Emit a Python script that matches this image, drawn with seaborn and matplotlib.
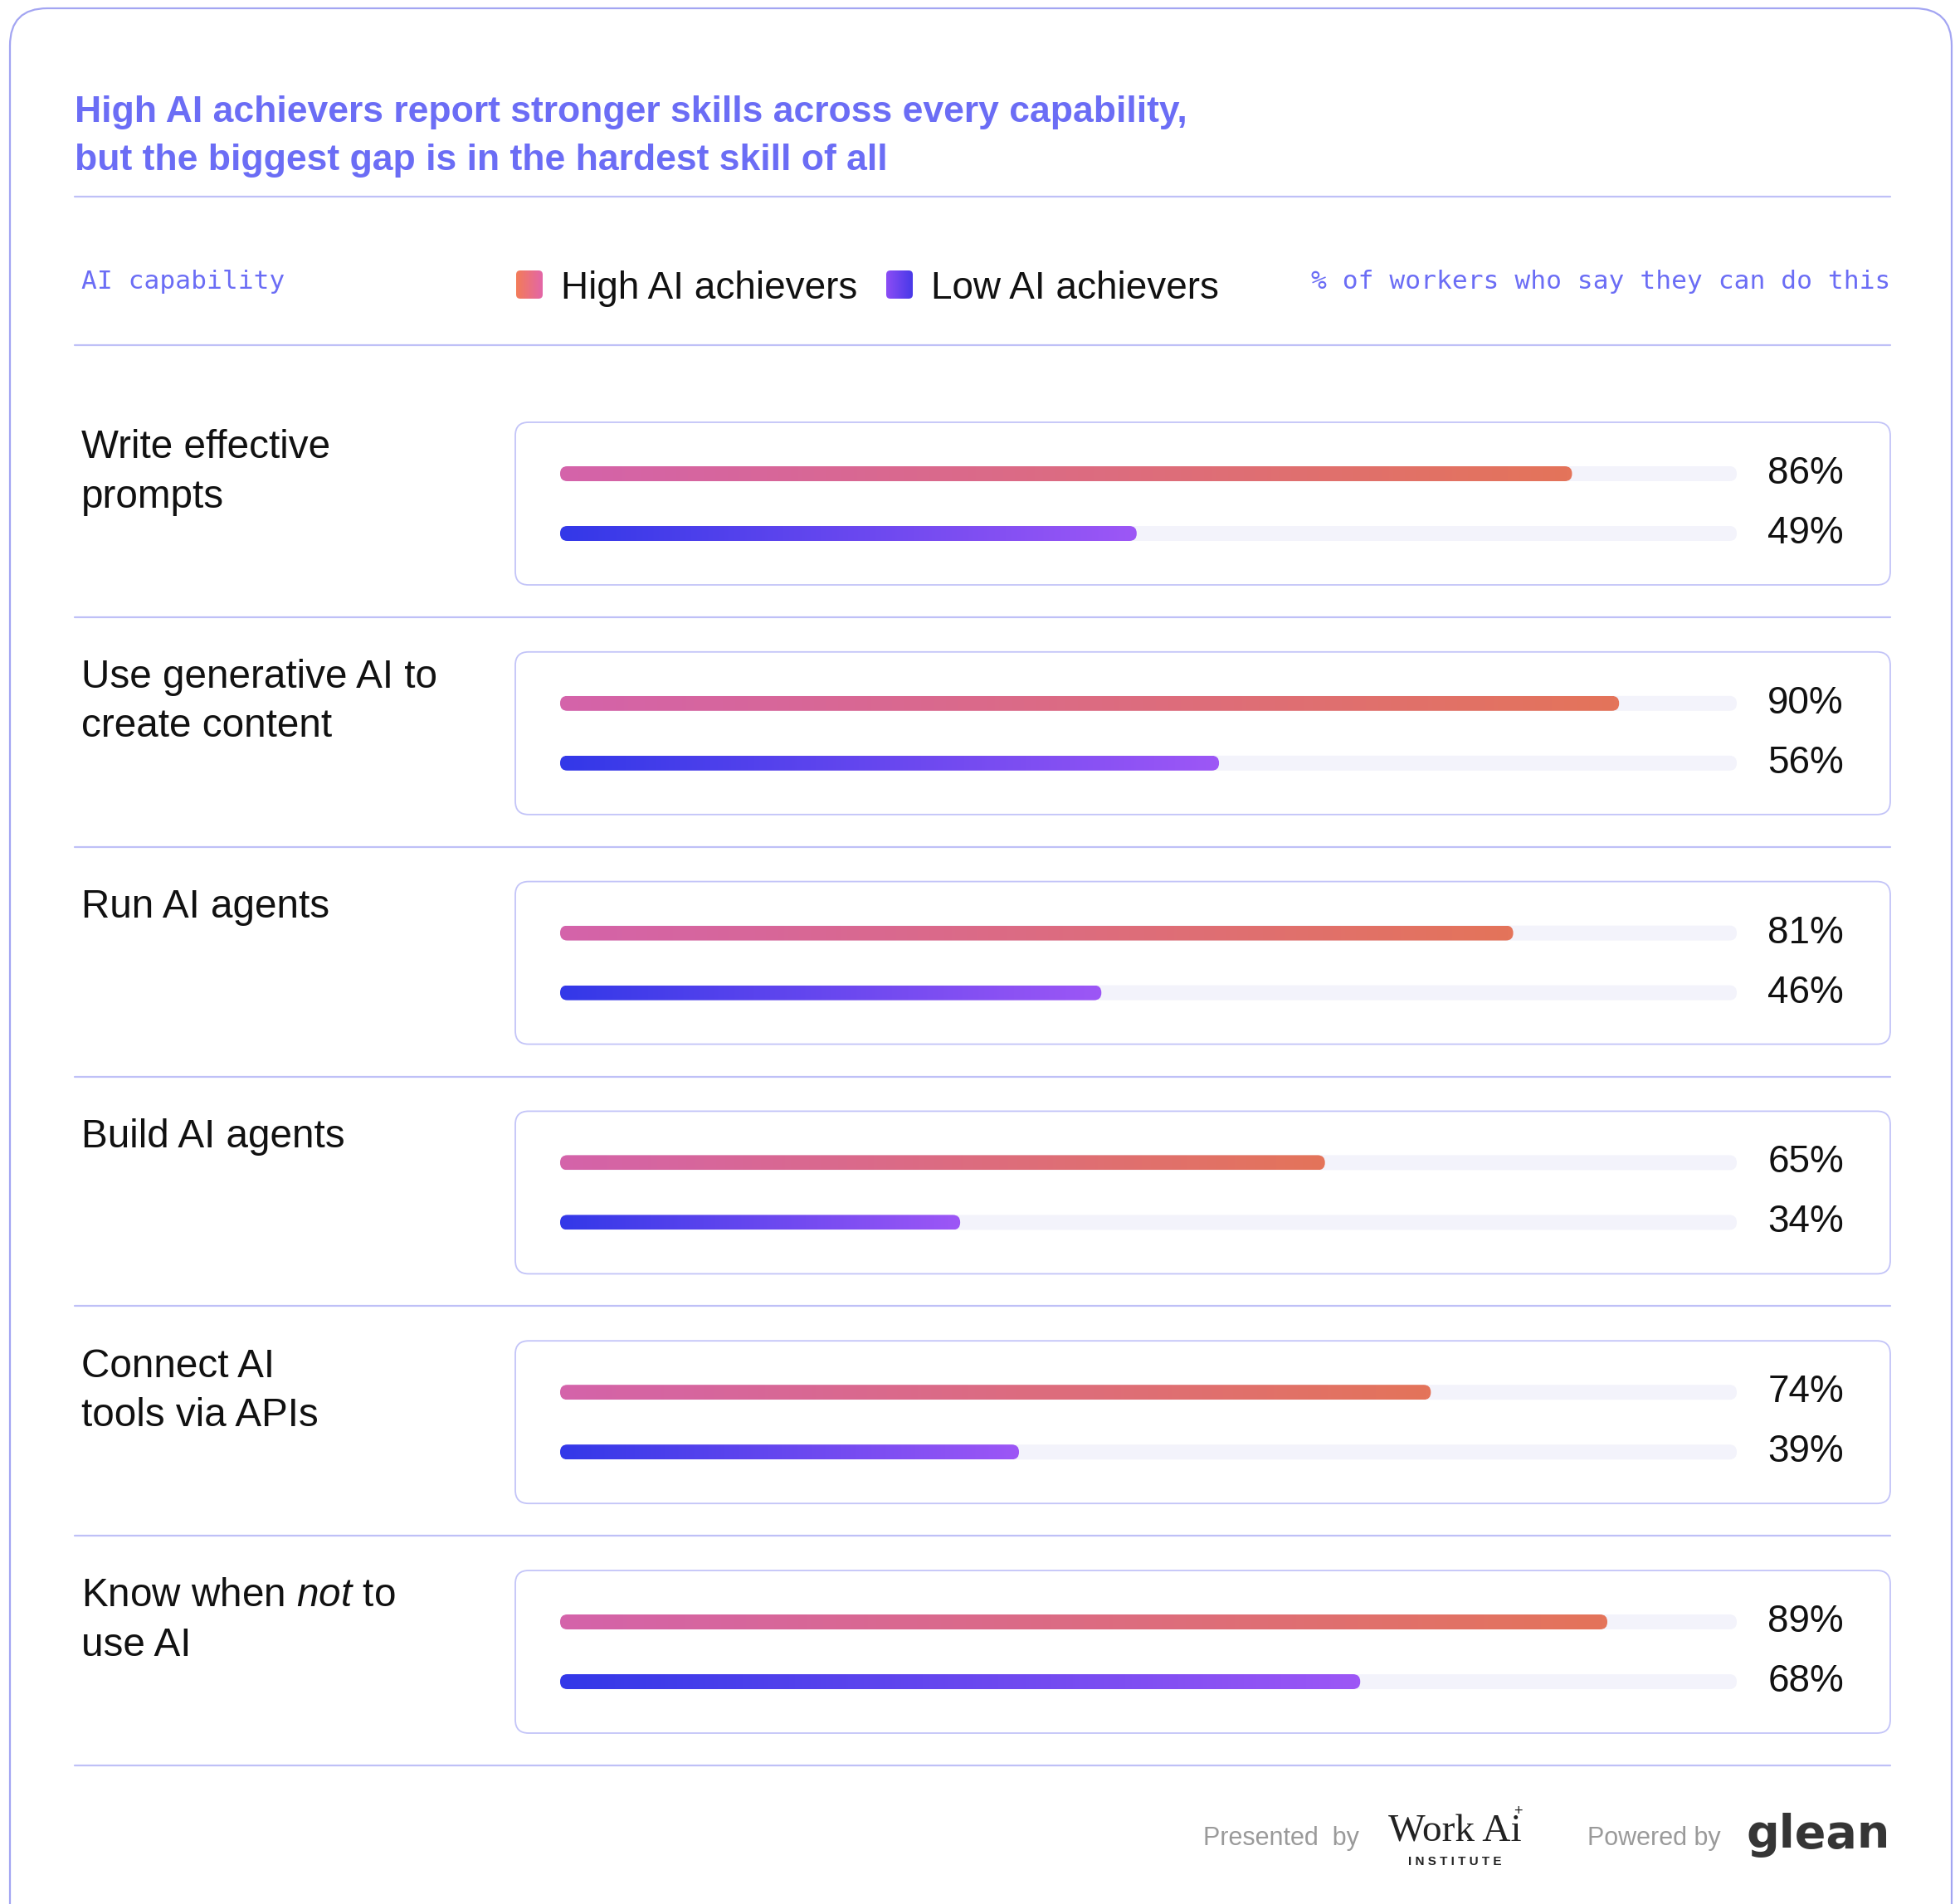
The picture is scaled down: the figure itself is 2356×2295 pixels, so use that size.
import numpy as np
import matplotlib
matplotlib.use("Agg")
import matplotlib.pyplot as plt
import seaborn as sns
from matplotlib.patches import FancyBboxPatch
from matplotlib.colors import LinearSegmentedColormap
from matplotlib.transforms import blended_transform_factory

# data
capabilities = ["Write effective\nprompts",
                "Use generative AI to\ncreate content",
                "Run AI agents",
                "Build AI agents",
                "Connect AI\ntools via APIs",
                "Know when $\\mathit{not}$ to\nuse AI"]
high_ai = [86, 90, 81, 65, 74, 89]
low_ai = [49, 56, 46, 34, 39, 68]
groups = ["High AI achievers", "Low AI achievers"]
title_lines = ["High AI achievers report stronger skills across every capability,",
               "but the biggest gap is in the hardest skill of all"]

W, H, DPI = 2356, 2295, 100
PURPLE = "#6b6df5"
LINE = "#bfc0f7"
TRACK = "#f3f3fb"
INK = "#111111"
high_cmap = LinearSegmentedColormap.from_list("high", ["#d463aa", "#e4745a"])
low_cmap = LinearSegmentedColormap.from_list("low", ["#3338e8", "#9d57f6"])
grad = np.linspace(0, 1, 256).reshape(1, -1)

sns.set_theme(style="white")
plt.rcParams['font.family'] = ['Liberation Sans', 'DejaVu Sans']
plt.rcParams['mathtext.fontset'] = 'custom'
plt.rcParams['mathtext.rm'] = 'Liberation Sans'
plt.rcParams['mathtext.it'] = 'Liberation Sans:italic'

fig = plt.figure(figsize=(W / DPI, H / DPI), dpi=DPI)
fig.patch.set_facecolor("white")

# full-figure canvas in pixel units (y down) for text and frame
bg = fig.add_axes([0, 0, 1, 1])
bg.set_xlim(0, W)
bg.set_ylim(H, 0)
bg.axis("off")


def reset_bg():
    bg.set_xlim(0, W)
    bg.set_ylim(H, 0)


bg.add_patch(FancyBboxPatch((12, 10), 2340, H + 60, boxstyle="round,pad=0,rounding_size=45",
                            fc="white", ec="#a3a5f2", lw=1.6, zorder=0))

# title
for i, line in enumerate(title_lines):
    bg.text(90, 135 + i * 58, line, color=PURPLE, fontsize=32, fontweight="bold",
            va="center", ha="left")

bg.plot([90, 2278], [237, 237], color=LINE, lw=1.6)
bg.plot([90, 2278], [416, 416], color=LINE, lw=1.6)

# header
bg.text(98, 340, "AI capability", family="DejaVu Sans Mono", fontsize=22.5, color=PURPLE, va="center")
bg.text(2278, 340, "% of workers who say they can do this", family="DejaVu Sans Mono",
        fontsize=22.5, color=PURPLE, va="center", ha="right")

legend_items = [(622, 676, groups[0], LinearSegmentedColormap.from_list("lh", ["#f37c58", "#e366a8"])),
                (1068, 1122, groups[1], LinearSegmentedColormap.from_list("ll", ["#8c4df5", "#4839e8"]))]
for sx, tx, label, cm in legend_items:
    sq = FancyBboxPatch((sx, 326), 32, 34, boxstyle="round,pad=0,rounding_size=5",
                        fc="none", ec="none")
    bg.add_patch(sq)
    im = bg.imshow(grad, cmap=cm, extent=(sx, sx + 32, 360, 326), aspect="auto", zorder=2)
    im.set_clip_path(sq)
    bg.text(tx, 348, label, fontsize=33, color=INK, va="center", ha="left")
reset_bg()

# rows
PITCH = 276.8
X0, X1 = 675, 2093
px_x = 100 / (X1 - X0)
px_y = 1 / 72
ASPECT = px_y / px_x
R = 8.8 * px_x

for i, cap in enumerate(capabilities):
    top = 509 + i * PITCH
    sep = 744 + i * PITCH
    bg.add_patch(FancyBboxPatch((621, top), 2278 - 621, 196, boxstyle="round,pad=0,rounding_size=16",
                                fc="white", ec="#c3c4f8", lw=1.3, zorder=1))
    bg.plot([90, 2278], [sep, sep], color=LINE, lw=1.6)
    for j, ln in enumerate(cap.split("\n")):
        bg.text(98, top + 31 + j * 59, ln, fontsize=34.3, color=INK, va="center", ha="left")

    hy, ly = top + 62, top + 134
    ax = fig.add_axes([X0 / W, 1 - (ly + 36) / H, (X1 - X0) / W, 144 / H])
    sns.barplot(x=[100, 100], y=groups, orient="y", color=TRACK, width=0.25,
                errorbar=None, ax=ax)
    n_track = len(ax.patches)
    sns.barplot(x=[high_ai[i], low_ai[i]], y=groups, orient="y", color="#888888",
                width=0.25, errorbar=None, ax=ax)
    rects = list(ax.patches)
    for k, r in enumerate(rects):
        x, y, w, h = r.get_x(), r.get_y(), r.get_width(), r.get_height()
        r.remove()
        is_val = k >= n_track
        p = FancyBboxPatch((x, y), w, h, boxstyle=f"round,pad=0,rounding_size={R}",
                           mutation_aspect=ASPECT, fc="none" if is_val else TRACK,
                           ec="none", zorder=3 if is_val else 2)
        ax.add_patch(p)
        if is_val:
            cm = high_cmap if (k - n_track) == 0 else low_cmap
            im = ax.imshow(grad, cmap=cm, extent=(x, x + w, y + h, y), aspect="auto",
                           zorder=3, interpolation="bilinear")
            im.set_clip_path(p)
    ax.set_xlim(0, 100)
    ax.set_ylim(1.5, -0.5)
    ax.axis("off")
    ax.patch.set_alpha(0)
    tr = blended_transform_factory(ax.transAxes, ax.transData)
    lx = (2222 - X0) / (X1 - X0)
    for k, v in enumerate([high_ai[i], low_ai[i]]):
        ax.text(lx, k, f"{v}%", transform=tr, fontsize=33, color=INK, va="center", ha="right")

# footer
bg.text(1450, 2216, "Presented  by", fontsize=22, color="#9a9a9a", va="center", ha="left")
bg.text(1753, 2208, "Work Ai", family="Liberation Serif", fontsize=34, color="#222222",
        va="center", ha="center")
bg.text(1829, 2183, "+", fontsize=13, color="#222222", va="center", ha="center")
bg.text(1753, 2244, "I N S T I T U T E", fontsize=11, fontweight="bold", color="#222222",
        va="center", ha="center")
bg.text(1913, 2216, "Powered by", fontsize=22, color="#9a9a9a", va="center", ha="left")
bg.text(2278, 2212, "glean", family="DejaVu Sans", fontsize=40, fontweight="bold",
        color="#353535", va="center", ha="right")
reset_bg()

fig.savefig("out.png", dpi=DPI)
